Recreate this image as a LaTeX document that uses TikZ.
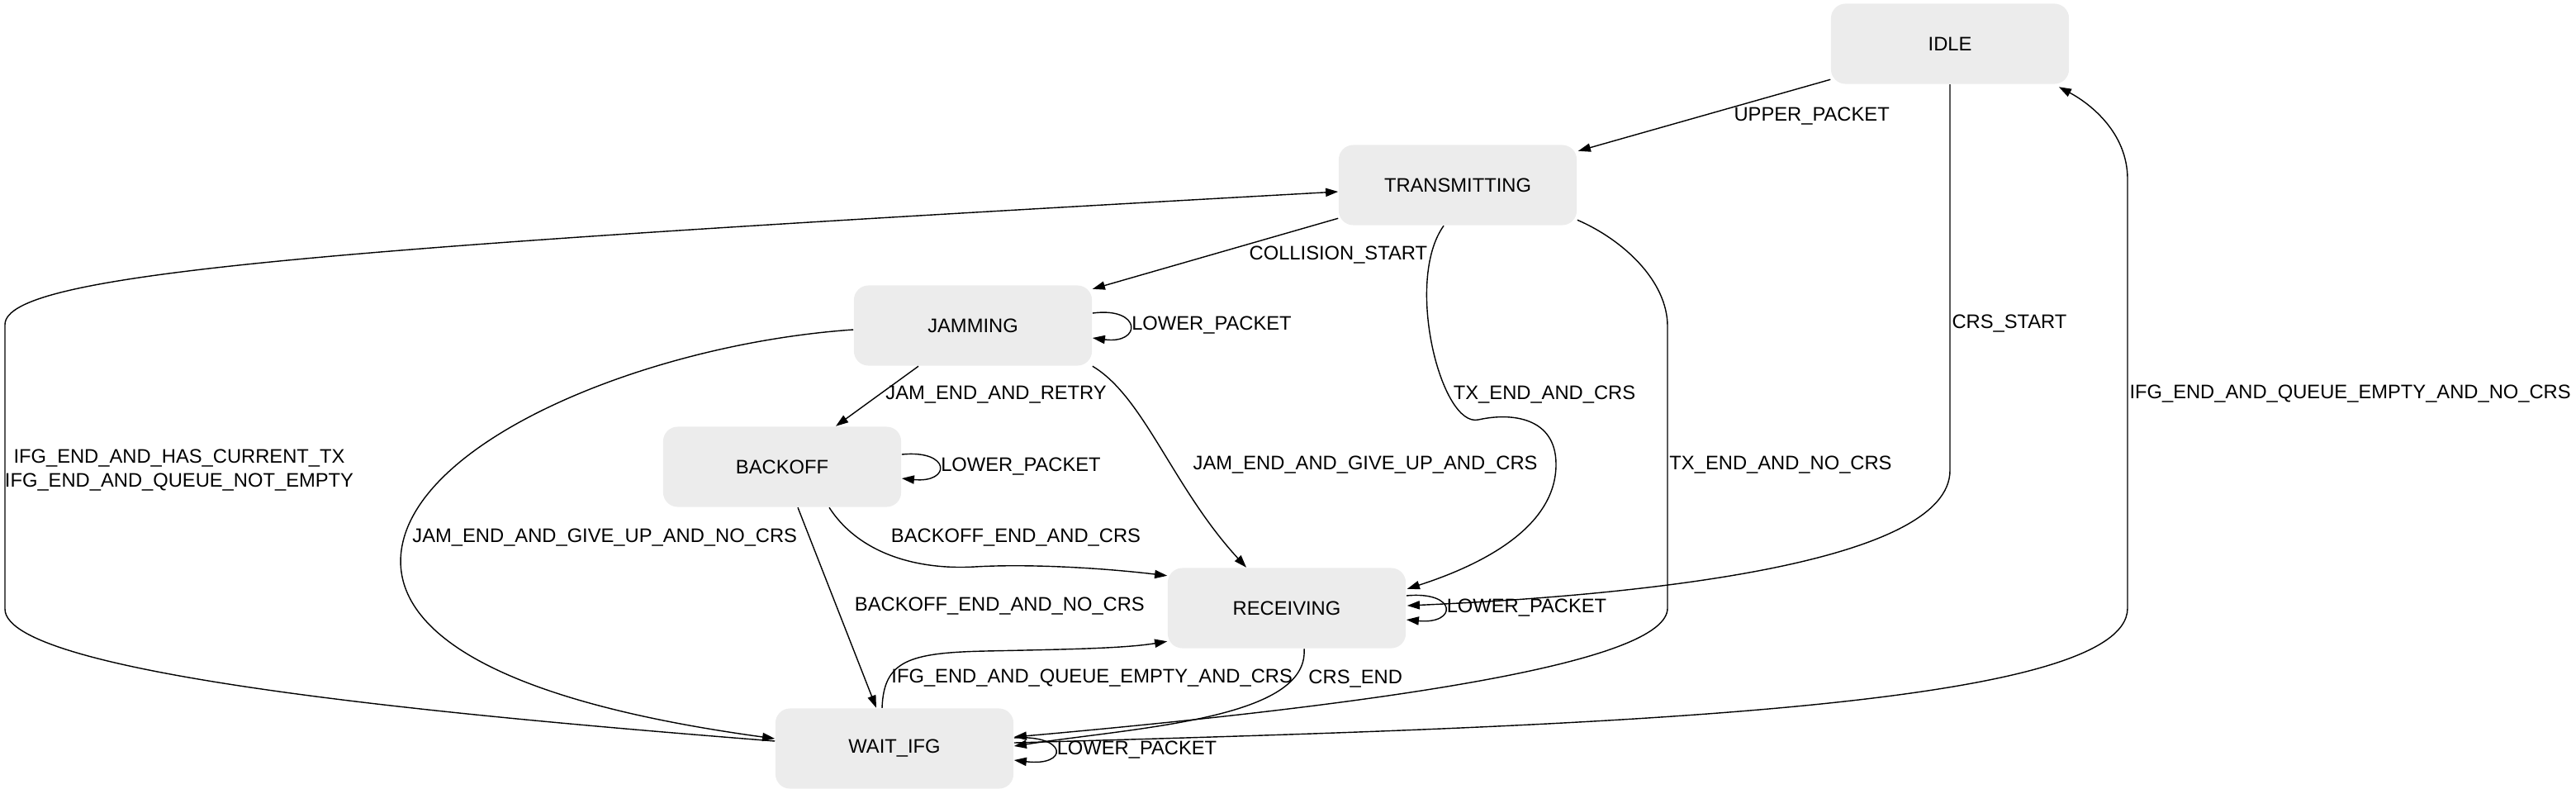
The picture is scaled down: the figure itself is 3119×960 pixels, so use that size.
\documentclass[tikz,border=0pt]{standalone}
\usepackage{fontspec}
\setmainfont{Liberation Sans}
\usetikzlibrary{calc,arrows.meta}
\definecolor{statefill}{HTML}{ECECEC}
\tikzset{>={Triangle[length=4.3pt,width=2.9pt]}}
\tikzset{
  stbox/.style={fill=statefill,rounded corners=5pt,minimum width=2.88cm,
    minimum height=0.97cm,inner sep=0pt,font=\fontsize{6.75pt}{8pt}\selectfont},
  trans/.style={->,line width=0.4pt},
  lbl/.style={inner sep=0.5pt,font=\fontsize{6.75pt}{8pt}\selectfont}
}

\begin{document}
\begin{tikzpicture}[x=0.01cm,y=-0.01cm]
% Units are pixels, y downwards
\useasboundingbox (0,0) rectangle (3119,960);

% States
\node[stbox] (idle) at (2361,53) {IDLE};
\node[stbox] (tx)   at (1765,224) {TRANSMITTING};
\node[stbox] (jam)  at (1178,394) {JAMMING};
\node[stbox] (back) at (947,565) {BACKOFF};
\node[stbox] (recv) at (1558,736) {RECEIVING};
\node[stbox] (wait) at (1083,906) {WAIT\_IFG};

% Leaving IDLE
\draw[trans] ($(idle.south west)+(0,-6)$) -- ($(tx.north east)+(1,8)$)
   node[lbl,pos=.39,anchor=north west,shift={(0,-3)}] {UPPER\_PACKET};
\draw[trans] (idle.south) -- ($(idle.south)+(0,467)$)
   node[lbl,pos=.62,anchor=west] {CRS\_START}
   .. controls (2361,680) and (2000,720) .. ($(recv.east)+(1,-3)$);

% Leaving TRANSMITTING
\draw[trans] ($(tx.south west)+(0,-9)$) -- ($(jam.north east)+(0,5)$)
   node[lbl,pos=.37,anchor=north west] {COLLISION\_START};
\draw[trans] ($(tx.south)+(-17,0)$) .. controls (1700,340) and (1745,518) .. (1790,508)
   node[lbl,shift={(80,-30)}] {TX\_END\_AND\_CRS}
   .. controls (1830,499) and (1884,505) .. (1884,562)
   .. controls (1884,640) and (1790,685) .. ($(recv.north east)+(1,26)$);
\draw[trans] ($(tx.south east)+(0,-7)$) .. controls (1965,290) and (2019,340) .. (2019,395)
   -- (2019,736) node[lbl,pos=.49,anchor=west] {TX\_END\_AND\_NO\_CRS}
   .. controls (2019,800) and (1700,850) .. ($(wait.east)+(0,-14)$);

% Leaving JAMMING
\draw[trans] ($(jam.east)+(0,-15)$) .. controls +(60,-8) and +(60,8) .. ($(jam.east)+(0,15)$)
   node[lbl,pos=.5,anchor=west] {LOWER\_PACKET};
\draw[trans] ($(jam.south)+(-66,0)$) -- ($(back.north)+(65,0)$)
   node[lbl,pos=.47,anchor=west,shift={(5,0)}] {JAM\_END\_AND\_RETRY};
\draw[trans] (jam.south east) .. controls (1385,480) and (1420,590) .. ($(recv.north)+(-49,0)$)
   node[lbl,pos=.55,anchor=west,shift={(28,7)}] {JAM\_END\_AND\_GIVE\_UP\_AND\_CRS};
\draw[trans] ($(jam.west)+(0,5)$) .. controls (800,415) and (530,520) .. (490,648)
   node[lbl,anchor=west,shift={(7,3)}] {JAM\_END\_AND\_GIVE\_UP\_AND\_NO\_CRS}
   .. controls (474,700) and (470,830) .. ($(wait.west)+(0,-12)$);

% Leaving BACKOFF
\draw[trans] ($(back.east)+(0,-15)$) .. controls +(60,-6) and +(60,6) .. ($(back.east)+(0,14)$)
   node[lbl,pos=.5,anchor=west] {LOWER\_PACKET};
\draw[trans] ($(back.south)+(57,0)$) .. controls (1040,670) and (1110,690) .. (1180,686)
   node[lbl,shift={(50,-35)}] {BACKOFF\_END\_AND\_CRS}
   .. controls (1250,682) and (1340,688) .. ($(recv.north west)+(0,10)$);
\draw[trans] ($(back.south)+(19,0)$) -- ($(wait.north)+(-22,0)$)
   node[lbl,pos=.5,anchor=west,shift={(19,-2)}] {BACKOFF\_END\_AND\_NO\_CRS};

% Leaving RECEIVING
\draw[trans] ($(recv.east)+(0,-15)$) .. controls +(62,-6) and +(62,6) .. ($(recv.east)+(0,14)$)
   node[lbl,pos=.5,anchor=west] {LOWER\_PACKET};
\draw[trans] ($(recv.south)+(21,0)$) node[lbl,anchor=west,shift={(3,36)}] {CRS\_END}
   .. controls (1585,870) and (1380,880) .. ($(wait.east)+(0,-3)$);

% Leaving WAIT_IFG
\draw[trans] ($(wait.east)+(0,-13)$) .. controls +(66,-4) and +(66,8) .. ($(wait.east)+(0,14)$)
   node[lbl,pos=.5,anchor=west] {LOWER\_PACKET};
\draw[trans] ($(wait.north)+(-15,0)$) node[lbl,anchor=west,shift={(9,-36)}] {IFG\_END\_AND\_QUEUE\_EMPTY\_AND\_CRS}
   .. controls (1070,800) and (1100,790) .. (1193,788)
   .. controls (1286,786) and (1360,785) .. ($(recv.south west)+(0,-9)$);
\draw[trans] ($(wait.east)+(0,-7)$) .. controls (1900,880) and (2576,860) .. (2576,736)
   -- (2576,217) node[lbl,pos=.5,anchor=west] {IFG\_END\_AND\_QUEUE\_EMPTY\_AND\_NO\_CRS}
   .. controls (2576,160) and (2530,125) .. ($(idle.south east)+(-13,3)$);
\draw[trans] ($(wait.west)+(0,-9)$) .. controls (600,870) and (6,820) .. (6,737)
   -- (6,393) node[lbl,pos=.5,align=center,shift={(211,4)}]
      {IFG\_END\_AND\_HAS\_CURRENT\_TX\\IFG\_END\_AND\_QUEUE\_NOT\_EMPTY}
   .. controls (6,330) and (400,300) .. ($(tx.west)+(0,8)$);

\end{tikzpicture}
\end{document}
